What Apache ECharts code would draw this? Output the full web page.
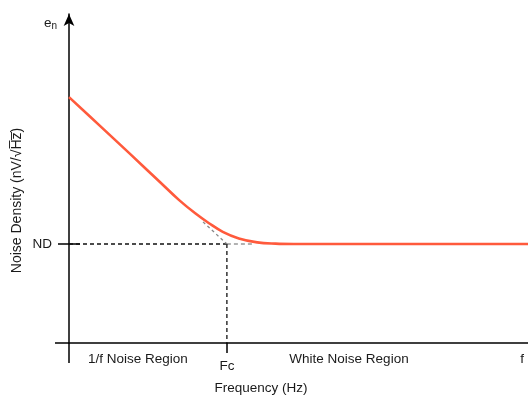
<!DOCTYPE html>
<html>
<head>
<meta charset="utf-8">
<script src="https://cdn.jsdelivr.net/npm/echarts@6/dist/echarts.min.js"></script>
<style>html,body{margin:0;padding:0;background:#fff}#c{width:528px;height:396px}</style>
</head>
<body>
<div id="c"></div>
<script>
// ---- data ----
const freq = [0, 6.75, 13.3, 19.8, 24.0, 27.5, 30.5, 33.5, 37.0, 41.0, 45.0, 49.0, 100];
const noise = [74.5, 65.8, 57.3, 48.8, 43.3, 39.3, 36.3, 33.7, 31.7, 30.5, 30.1, 30.0, 30.0];
const ND = 30;
const FC = 34.4;
const whiteDashEnd = 40.5;
const asymStart = [29.2, 36.7];
const regionLabels = ['1/f Noise Region', 'White Noise Region', 'f'];
const regionPos = [15, 61, 98.7];
const xTitle = 'Frequency (Hz)';
const yTitle = 'Noise Density (nV/\u221AH\u0305z\u0305)';

const FONT = '"Liberation Sans", Arial, sans-serif';
const TXT = '#1a1a1a';
const FS = 13.5;
const chart = echarts.init(document.getElementById('c'), null, {renderer: 'canvas'});

const pts = freq.map((f, i) => [f, noise[i]]);

chart.setOption({
  animation: false,
  grid: {left: 69, right: 0, top: 14, bottom: 53, containLabel: false, outerBoundsMode: 'none'},
  xAxis: [
    {
      type: 'value', min: 0, max: 100, position: 'bottom',
      axisLine: {show: true, lineStyle: {color: '#000', width: 1.5}},
      axisTick: {show: true, customValues: [0], length: 20, lineStyle: {color: '#000', width: 1.5}},
      axisLabel: {show: true, customValues: [FC], formatter: () => 'Fc', margin: 16, color: TXT, fontSize: FS, fontFamily: FONT},
      splitLine: {show: false},
      name: xTitle, nameLocation: 'middle', nameGap: 38,
      nameTextStyle: {color: TXT, fontSize: FS, fontFamily: FONT, padding: [0, 75, 0, 0]}
    },
    {
      type: 'value', min: 0, max: 100, position: 'bottom',
      axisLine: {show: false},
      axisTick: {show: true, customValues: [FC], length: 10, lineStyle: {color: '#000', width: 1.5}},
      axisLabel: {show: true, customValues: regionPos,
        formatter: v => { const i = regionPos.indexOf(v); return i >= 0 ? regionLabels[i] : ''; },
        margin: 9, color: TXT, fontSize: FS, fontFamily: FONT},
      splitLine: {show: false}
    }
  ],
  yAxis: [
    {
      type: 'value', min: 0, max: 99.7, position: 'left',
      axisLine: {show: true, symbol: ['none', 'arrow'], symbolSize: [8, 12], lineStyle: {color: '#000', width: 1.5}},
      axisTick: {show: true, customValues: [0], length: 14, lineStyle: {color: '#000', width: 1.5}},
      axisLabel: {show: false},
      splitLine: {show: false},
      name: 'e{s|n}', nameLocation: 'end', nameGap: -9,
      nameTextStyle: {color: TXT, fontSize: FS, fontFamily: FONT, align: 'right', verticalAlign: 'middle', padding: [0, 12, 0, 0],
        rich: {s: {fontSize: 10, fontFamily: FONT, color: TXT, padding: [6, 0, 0, 0]}}}
    },
    {
      type: 'value', min: 0, max: 99.7, position: 'left',
      axisLine: {show: false},
      axisTick: {show: true, customValues: [ND], length: 11, lineStyle: {color: '#000', width: 1.5}},
      axisLabel: {show: true, customValues: [ND], formatter: () => 'ND', margin: 17, color: TXT, fontSize: FS, fontFamily: FONT},
      splitLine: {show: false}
    },
    {
      type: 'value', min: 0, max: 99.7, position: 'left',
      axisLine: {show: false},
      axisTick: {show: true, inside: true, customValues: [ND], length: 11, lineStyle: {color: '#000', width: 1.5}},
      axisLabel: {show: false},
      splitLine: {show: false},
      name: yTitle, nameLocation: 'middle', nameRotate: 90, nameGap: 45,
      nameTextStyle: {color: TXT, fontSize: 14, fontFamily: FONT, padding: [0, 44, 0, 0]}
    }
  ],
  series: [
    {type: 'line', silent: true, symbol: 'none', data: [[0, ND], [FC, ND]],
      lineStyle: {color: '#111', width: 1.3, type: [4, 3]}},
    {type: 'line', silent: true, symbol: 'none', data: [[FC, ND], [whiteDashEnd, ND]],
      lineStyle: {color: '#999', width: 1.3, type: [4, 3]}},
    {type: 'line', silent: true, symbol: 'none', data: [[FC, ND], [FC, 0]],
      lineStyle: {color: '#111', width: 1.3, type: [4, 3]}},
    {type: 'line', silent: true, symbol: 'none', data: [asymStart, [FC, ND]],
      lineStyle: {color: '#888', width: 1.3, type: [3, 3]}},
    {type: 'line', silent: true, symbol: 'none', smooth: 0.4, data: pts,
      lineStyle: {color: '#ff5a3c', width: 2.6}}
  ]
});
</script>
</body>
</html>
